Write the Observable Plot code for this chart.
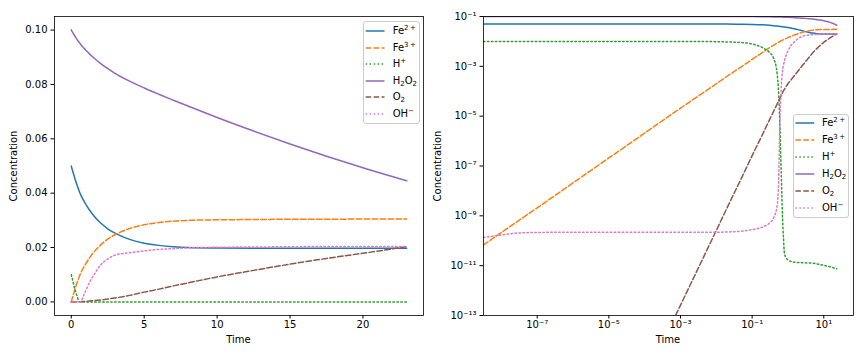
<!DOCTYPE html>
<html>
<head>
<meta charset="utf-8">
<script src="https://cdn.jsdelivr.net/npm/d3@7"></script>
<script src="https://cdn.jsdelivr.net/npm/@observablehq/plot@0.6"></script>
<style>
  body { margin: 0; background: #fff; font-family: "DejaVu Sans", sans-serif; }
  #root { position: relative; width: 864px; height: 360px; overflow: hidden; background: #fff; }
  .panel { position: absolute; top: 0; width: 432px; height: 360px; }
  .lbl { position: absolute; font-size: 10px; line-height: 10px; color: #000; white-space: nowrap; }
  .legend { position: absolute; background: rgba(255,255,255,0.8); border: 1px solid #cccccc; border-radius: 3px; box-sizing: border-box; }
  .legtext { position: absolute; font-size: 10px; line-height: 12px; color: #000; white-space: nowrap; }
  .legtext sup { font-size: 7px; vertical-align: 4px; line-height: 0; }
  .legtext sub { font-size: 7px; vertical-align: -2px; line-height: 0; }
</style>
</head>
<body>
<div id="root">
  <div class="panel" id="left" style="left:0px"></div>
  <div class="panel" id="right" style="left:432px"></div>
</div>
<script>
// ---------------- data ----------------
const time = [0, 3.16e-9, 1e-8, 3e-8, 1e-7, 1e-6, 1e-5, 1e-4, 1e-3, 0.01, 0.02, 0.05, 0.1, 0.2, 0.3, 0.4, 0.5, 0.55, 0.6, 0.65, 0.7, 0.75, 0.8, 0.9, 1, 1.25, 1.5, 2, 2.5, 3, 4, 5, 6, 7, 8, 10, 12.5, 15, 17.5, 20, 23];

const fe2 = [0.05, 0.05, 0.05, 0.05, 0.05, 0.05, 0.05, 0.05, 0.04998, 0.0498, 0.0496, 0.0490, 0.0481, 0.0463, 0.0445, 0.0429, 0.0414, 0.0407, 0.0400, 0.0394, 0.0388, 0.0383, 0.0378, 0.0368, 0.0359, 0.0338, 0.0320, 0.0291, 0.0269, 0.0253, 0.0230, 0.0216, 0.0208, 0.0203, 0.0200, 0.0198, 0.0197, 0.0197, 0.0197, 0.0197, 0.0197];

const fe3 = [0, 6.8e-11, 2.15e-10, 6.4e-10, 2.1e-9, 2.1e-8, 2.1e-7, 2.1e-6, 2.1e-5, 2.0e-4, 4.0e-4, 9.6e-4, 0.0019, 0.0037, 0.0055, 0.0071, 0.0086, 0.0093, 0.0100, 0.0106, 0.0112, 0.0117, 0.0122, 0.0132, 0.0141, 0.0162, 0.0180, 0.0209, 0.0231, 0.0247, 0.0270, 0.0284, 0.0292, 0.0297, 0.0300, 0.0302, 0.0303, 0.0304, 0.0304, 0.0305, 0.0305];

const hplus = [0.01, 0.01, 0.01, 0.01, 0.01, 0.01, 0.01, 0.01, 0.00998, 0.0098, 0.0095, 0.0090, 0.0079, 0.0055, 0.0037, 0.0021, 5e-4, 8e-5, 3e-6, 5e-8, 1.2e-9, 1.3e-10, 3e-11, 2e-11, 1.7e-11, 1.45e-11, 1.38e-11, 1.34e-11, 1.32e-11, 1.3e-11, 1.28e-11, 1.25e-11, 1.2e-11, 1.15e-11, 1.1e-11, 1.03e-11, 9.6e-12, 9e-12, 8.5e-12, 8e-12, 7.5e-12];

const h2o2 = [0.1, 0.1, 0.1, 0.1, 0.1, 0.1, 0.1, 0.099999, 0.099991, 0.09991, 0.09982, 0.09954, 0.09908, 0.09819, 0.09734, 0.09652, 0.09573, 0.09538, 0.09504, 0.09471, 0.09439, 0.09408, 0.09377, 0.09318, 0.09261, 0.09126, 0.09001, 0.08776, 0.08581, 0.08411, 0.08121, 0.07871, 0.07641, 0.07421, 0.07205, 0.06785, 0.06285, 0.05810, 0.05360, 0.04935, 0.04455];

const o2 = [0, null, null, null, null, null, null, 2.6e-16, 2.6e-13, 2.6e-10, 2.1e-9, 3.2e-8, 2.6e-7, 2.0e-6, 6.8e-6, 1.6e-5, 3.1e-5, 4.1e-5, 5.3e-5, 6.8e-5, 8.5e-5, 1.03e-4, 1.22e-4, 1.6e-4, 2.0e-4, 3.0e-4, 4.2e-4, 7.0e-4, 1.05e-3, 1.45e-3, 2.4e-3, 3.6e-3, 4.7e-3, 5.9e-3, 7.0e-3, 9.2e-3, 0.0116, 0.0139, 0.0160, 0.0179, 0.0203];

const ohminus = [0, 1.35e-10, 1.7e-10, 2.05e-10, 2.15e-10, 2.2e-10, 2.2e-10, 2.2e-10, 2.2e-10, 2.2e-10, 2.25e-10, 2.4e-10, 2.8e-10, 3.6e-10, 5e-10, 8.5e-10, 2.5e-9, 3e-8, 1e-5, 1.5e-4, 6e-4, 1.1e-3, 1.7e-3, 3.0e-3, 4.2e-3, 7.2e-3, 9.5e-3, 0.0135, 0.0158, 0.0172, 0.0181, 0.0188, 0.0193, 0.0196, 0.0199, 0.0201, 0.0202, 0.0203, 0.0204, 0.0204, 0.0204];

const seriesNames = ["Fe2+", "Fe3+", "H+", "H2O2", "O2", "OH-"];
const seriesLabels = ["Fe<sup>2&#8201;+</sup>", "Fe<sup>3&#8201;+</sup>", "H<sup>+</sup>", "H<sub>2</sub>O<sub>2</sub>", "O<sub>2</sub>", "OH<sup>&minus;</sup>"];
const seriesColors = ["#1f77b4", "#ff7f0e", "#2ca02c", "#9467bd", "#8c564b", "#e377c2"];
const seriesDash = [null, "5.55,2.4", "1.5,2.475", null, "5.55,2.4", "1.5,2.475"];

const linTicksX = [0, 5, 10, 15, 20];
const linTicksY = [0, 0.02, 0.04, 0.06, 0.08, 0.10];
const logTicksX = [1e-7, 1e-5, 1e-3, 1e-1, 1e1];
const logTicksY = [1e-1, 1e-3, 1e-5, 1e-7, 1e-9, 1e-11, 1e-13];

// ---------------- build table ----------------
const seriesValues = [fe2, fe3, hplus, h2o2, o2, ohminus];
const rows = [];
seriesValues.forEach((arr, i) => arr.forEach((v, j) => {
  if (v !== null) rows.push({series: seriesNames[i], t: time[j], c: v});
}));

function lineMarks(filterFn, clip) {
  return seriesNames.map((name, i) => Plot.line(
    rows.filter(r => r.series === name && filterFn(r)),
    {x: "t", y: "c", stroke: seriesColors[i], strokeWidth: 1.5,
     strokeDasharray: seriesDash[i] || undefined, curve: "monotone-x", clip}
  ));
}

const supMap = {"-": "\u207B", "0": "\u2070", "1": "\u00B9", "2": "\u00B2", "3": "\u00B3", "4": "\u2074", "5": "\u2075", "6": "\u2076", "7": "\u2077", "8": "\u2078", "9": "\u2079"};
const powFmt = d => "10" + String(Math.round(Math.log10(d))).split("").map(ch => supMap[ch]).join("");

const baseStyle = {fontFamily: "DejaVu Sans, sans-serif", fontSize: "10px", color: "#000", background: "#fff", overflow: "visible"};

// ---------------- left: linear ----------------
const left = Plot.plot({
  width: 432, height: 360,
  marginLeft: 54, marginRight: 9, marginTop: 16, marginBottom: 45,
  style: baseStyle,
  x: {domain: [-1.15, 24.15], ticks: linTicksX, tickFormat: d => String(d), label: null, tickSize: 3.5, tickPadding: 2},
  y: {domain: [-0.005, 0.105], ticks: linTicksY, tickFormat: d3.format(".2f"), label: null, tickSize: 3.5, tickPadding: 3.5},
  marks: [
    ...lineMarks(r => true, false),
    Plot.frame({stroke: "#000", strokeWidth: 0.8})
  ]
});
document.getElementById("left").appendChild(left);

// ---------------- right: log-log ----------------
const right = Plot.plot({
  width: 432, height: 360,
  marginLeft: 51, marginRight: 11, marginTop: 16, marginBottom: 45,
  style: baseStyle,
  x: {type: "log", domain: [Math.pow(10, -8.5), Math.pow(10, 1.83)], ticks: logTicksX, tickFormat: powFmt, label: null, tickSize: 3.5, tickPadding: 2},
  y: {type: "log", domain: [1e-13, 1e-1], ticks: logTicksY, tickFormat: powFmt, label: null, tickSize: 3.5, tickPadding: 3.5},
  marks: [
    ...lineMarks(r => r.t > 0 && r.c > 0, true),
    Plot.frame({stroke: "#000", strokeWidth: 0.8})
  ]
});
document.getElementById("right").appendChild(right);

// ---------------- axis titles ----------------
const root = document.getElementById("root");
function addLabel(text, x, y, rotate) {
  const d = document.createElement("div");
  d.className = "lbl";
  d.textContent = text;
  d.style.left = x + "px";
  d.style.top = y + "px";
  d.style.transform = "translate(-50%,-50%)" + (rotate ? " rotate(-90deg)" : "");
  root.appendChild(d);
}
addLabel("Time", 238.5, 340, false);
addLabel("Time", 668, 340, false);
addLabel("Concentration", 14, 165.5, true);
addLabel("Concentration", 438, 165.5, true);

// ---------------- legends ----------------
function addLegend(x, y, w, h, itemYs, lineX0, lineX1, textX) {
  const box = document.createElement("div");
  box.className = "legend";
  box.style.left = x + "px"; box.style.top = y + "px";
  box.style.width = w + "px"; box.style.height = h + "px";
  seriesNames.forEach((name, i) => {
    const cy = itemYs[i];
    const svg = document.createElementNS("http://www.w3.org/2000/svg", "svg");
    svg.setAttribute("width", w); svg.setAttribute("height", 8);
    svg.style.position = "absolute"; svg.style.left = "-1px"; svg.style.top = (cy - 4 - 1) + "px";
    const ln = document.createElementNS("http://www.w3.org/2000/svg", "line");
    ln.setAttribute("x1", lineX0); ln.setAttribute("x2", lineX1);
    ln.setAttribute("y1", 4); ln.setAttribute("y2", 4);
    ln.setAttribute("stroke", seriesColors[i]); ln.setAttribute("stroke-width", 1.5);
    if (seriesDash[i]) ln.setAttribute("stroke-dasharray", seriesDash[i]);
    svg.appendChild(ln);
    box.appendChild(svg);
    const t = document.createElement("div");
    t.className = "legtext";
    t.innerHTML = seriesLabels[i];
    t.style.left = (textX - 1) + "px";
    t.style.top = (cy - 6 - 1) + "px";
    box.appendChild(t);
  });
  root.appendChild(box);
}
addLegend(363, 21, 56.5, 102.5, [9.7, 26.7, 43.3, 59.6, 76.2, 93.1], 2.7, 21.5, 29.7);
addLegend(793.3, 114, 56, 103.5, [9.3, 26.3, 43.3, 59.8, 76.7, 93.7], 2.4, 21.2, 28.7);
</script>
</body>
</html>
